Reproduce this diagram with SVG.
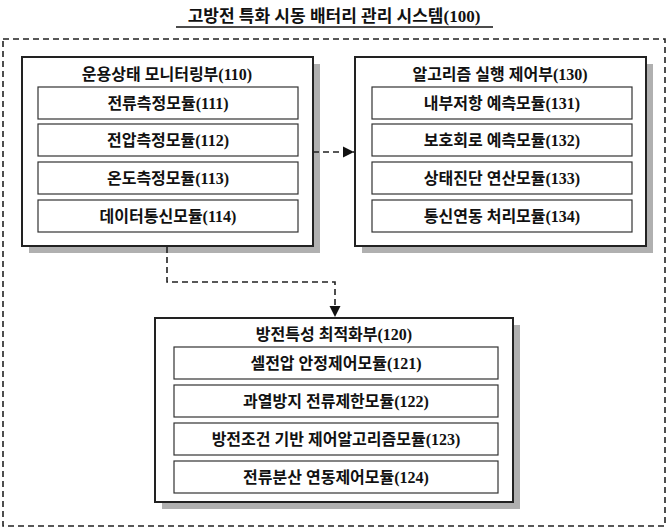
<svg xmlns="http://www.w3.org/2000/svg" width="669" height="529" viewBox="0 0 669 529">
<defs>
<style>
text{font-family:"Liberation Serif","Noto Sans CJK KR",serif;font-size:16px;text-anchor:middle;fill:#111;font-weight:bold}
.t{font-size:17px}
.sh{fill:#b0b0b0}
.box{fill:#fff;stroke:#222;stroke-width:2}
.in{fill:#fff;stroke:#333;stroke-width:1.2}
.dash{fill:none;stroke:#222;stroke-width:1.6;stroke-dasharray:6,4}
</style>
<marker id="ah" viewBox="0 0 10 10" refX="10" refY="5" markerWidth="7" markerHeight="7" orient="auto"><path d="M0,0L10,5L0,10z" fill="#111"/></marker>
</defs>
<rect width="669" height="529" fill="#fff"/>
<g id="title"><text class="t" x="334" y="22">고방전 특화 시동 배터리 관리 시스템(100)</text><line x1="176" y1="27" x2="493" y2="27" stroke="#111" stroke-width="1.3"/></g>
<rect id="outer" x="3" y="39" width="662" height="487" class="dash"/>
<g id="n110">
<rect x="29" y="64" width="291" height="189" class="sh"/>
<rect x="22" y="57" width="291" height="189" class="box"/>
<text x="167" y="80">운용상태 모니터링부(110)</text>
<rect x="38" y="87" width="260" height="32" class="in"/><text x="168" y="109">전류측정모듈(111)</text>
<rect x="38" y="124" width="260" height="32" class="in"/><text x="168" y="146">전압측정모듈(112)</text>
<rect x="38" y="162" width="260" height="32" class="in"/><text x="168" y="184">온도측정모듈(113)</text>
<rect x="38" y="200" width="260" height="32" class="in"/><text x="168" y="222">데이터통신모듈(114)</text>
</g>
<g id="n130">
<rect x="362" y="64" width="291" height="189" class="sh"/>
<rect x="355" y="57" width="291" height="189" class="box"/>
<text x="500" y="80">알고리즘 실행 제어부(130)</text>
<rect x="372" y="87" width="260" height="32" class="in"/><text x="502" y="109">내부저항 예측모듈(131)</text>
<rect x="372" y="124" width="260" height="32" class="in"/><text x="502" y="146">보호회로 예측모듈(132)</text>
<rect x="372" y="162" width="260" height="32" class="in"/><text x="502" y="184">상태진단 연산모듈(133)</text>
<rect x="372" y="200" width="260" height="32" class="in"/><text x="502" y="222">통신연동 처리모듈(134)</text>
</g>
<g id="n120">
<rect x="162" y="325" width="358" height="184" class="sh"/>
<rect x="155" y="318" width="358" height="184" class="box"/>
<text x="334" y="340">방전특성 최적화부(120)</text>
<rect x="174" y="347" width="324" height="32" class="in"/><text x="336" y="369">셀전압 안정제어모듈(121)</text>
<rect x="174" y="385" width="324" height="32" class="in"/><text x="336" y="407">과열방지 전류제한모듈(122)</text>
<rect x="174" y="423" width="324" height="32" class="in"/><text x="336" y="445">방전조건 기반 제어알고리즘모듈(123)</text>
<rect x="174" y="461" width="324" height="32" class="in"/><text x="336" y="483">전류분산 연동제어모듈(124)</text>
</g>
<g id="connectors">
<path d="M313,152H354" class="dash" marker-end="url(#ah)"/>
<path d="M167,247V282H335V317" class="dash" marker-end="url(#ah)"/>
</g>
</svg>
